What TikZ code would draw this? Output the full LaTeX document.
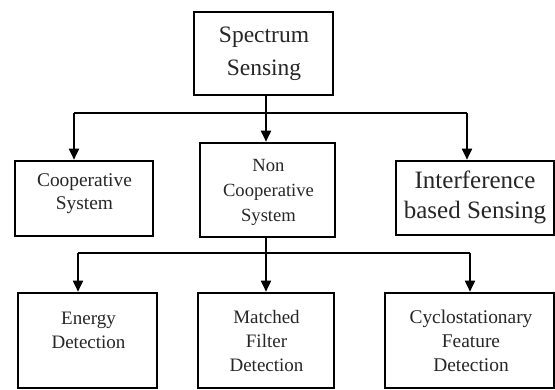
\documentclass[tikz,border=0pt]{standalone}
\usepackage{fontspec}
\setmainfont{Liberation Serif}
\usetikzlibrary{arrows.meta}
\tikzset{
  box/.style={draw=black, line width=2.6pt, rectangle, inner sep=0pt},
  txt/.style={align=center, inner sep=0pt, text=black!85},
  conn/.style={draw=black, line width=1.8pt},
  arr/.style={conn, -{Triangle[width=10pt,length=11pt]}},
}
\begin{document}
\begin{tikzpicture}[x=1pt, y=-1pt]
\useasboundingbox (0,0) rectangle (555,389);
% boxes
\node[box, minimum width=139pt, minimum height=83pt] (spec) at (263.5,53.5) {};
\node[box, minimum width=138pt, minimum height=75pt] (coop) at (84,198.5) {};
\node[box, minimum width=135pt, minimum height=94pt] (ncoop) at (267.5,190) {};
\node[box, minimum width=158pt, minimum height=74pt] (intf) at (475,198) {};
\node[box, minimum width=139pt, minimum height=95pt] (energy) at (87.5,340.5) {};
\node[box, minimum width=136pt, minimum height=95pt] (matched) at (266,340.5) {};
\node[box, minimum width=169pt, minimum height=95pt] (cyclo) at (469.5,340.5) {};
% texts
\node[txt, font=\fontsize{23.5}{33}\selectfont] (tspec) at (264,54) {Spectrum\\Sensing};
\node[txt, font=\fontsize{19.4}{23}\selectfont] (tcoop) at (84.5,194) {Cooperative\\System};
\node[txt, font=\fontsize{18.6}{25}\selectfont] (tncoop) at (268.5,192) {Non\\Cooperative\\System};
\node[txt, font=\fontsize{25}{30}\selectfont] (tintf) at (475,197) {Interference\\based Sensing};
\node[txt, font=\fontsize{19}{24}\selectfont] (tenergy) at (88.5,330) {Energy\\Detection};
\node[txt, font=\fontsize{19}{24}\selectfont] (tmatched) at (266.5,341) {Matched\\Filter\\Detection};
\node[txt, font=\fontsize{19.4}{24}\selectfont] (tcyclo) at (471,341) {Cyclostationary\\Feature\\Detection};
% bus coordinates
\coordinate (b1c) at (266,113);
\coordinate (b1l) at (74,113);
\coordinate (b1r) at (467,113);
\coordinate (b2c) at (266,253);
\coordinate (b2l) at (78,253);
\coordinate (b2r) at (470,253);
% connectors level 1
\draw[conn] (b1c |- spec.south) -- (b1c);
\draw[conn] (b1l) -- (b1r);
\draw[arr] (b1l) -- (b1l |- coop.north);
\draw[arr] (b1c) -- (b1c |- ncoop.north);
\draw[arr] (b1r) -- (b1r |- intf.north);
% connectors level 2
\draw[conn] (b2c |- ncoop.south) -- (b2c);
\draw[conn] (b2l) -- (b2r);
\draw[arr] (b2l) -- (b2l |- energy.north);
\draw[arr] (b2c) -- (b2c |- matched.north);
\draw[arr] (b2r) -- (b2r |- cyclo.north);
\end{tikzpicture}
\end{document}
